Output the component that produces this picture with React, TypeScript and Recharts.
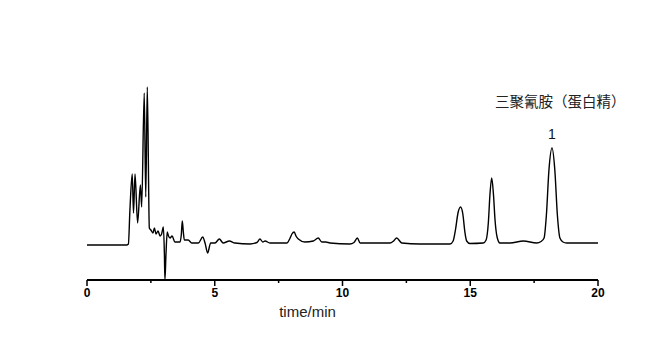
import { LineChart, Line, XAxis, YAxis, ReferenceDot } from "recharts";

// retention time (min) and detector signal
const times = [
  0, 1.0, 1.55, 1.62, 1.68, 1.77, 1.82, 1.88, 1.98, 2.09, 2.14, 2.24, 2.3, 2.36,
  2.44, 2.5, 2.58, 2.64, 2.7, 2.78, 2.86, 2.92, 2.99, 3.03, 3.05, 3.09, 3.14,
  3.19, 3.25, 3.33, 3.44, 3.64, 3.69, 3.73, 3.77, 3.81, 3.96, 4.1, 4.36, 4.53,
  4.62, 4.72, 4.84, 5.01, 5.18, 5.33, 5.57, 5.79, 6.38, 6.65, 6.77, 6.88, 6.97,
  7.16, 7.82, 7.95, 8.02, 8.11, 8.18, 8.27, 8.53, 8.86, 9.05, 9.19, 9.35, 9.51,
  10.29, 10.45, 10.58, 10.69, 11.86, 12.0, 12.12, 12.32, 13.03, 14.21, 14.33,
  14.42, 14.52, 14.62, 14.71, 14.79, 14.86, 14.99, 15.51, 15.62, 15.71, 15.77,
  15.84, 15.91, 15.97, 16.05, 16.16, 16.56, 17.08, 17.6, 17.77, 17.89, 17.98,
  18.08, 18.2, 18.31, 18.41, 18.51, 18.63, 18.77, 20,
];
const signal = [
  0, 0, 0, 1, 35, 71, 32, 71, 22, 60, 38, 152, 48, 158,
  17, 15, 12, 17, 11, 14, 9, 11, 18, -10, -35, -10, 13,
  9, 7, 9, 3, 3, 10, 24, 13, 5, 5, 2, 2, 8,
  2, -8, 2, 2, 6, 2, 4, 2, 1, 2.5, 6, 3, 4,
  2, 2, 7, 11, 13, 9, 6, 3, 4, 7, 3, 3, 2,
  1, 2.5, 7, 2, 2, 4, 7, 2, 1, 1, 4,
  15, 32, 38, 31, 13, 4, 1.5, 2, 5, 23, 50,
  67, 50, 25, 8, 2, 2, 4, 2, 3.5, 7, 30,
  75, 97, 75, 30, 7, 3, 2, 2,
];

const xTicks = [0, 2.5, 5, 7.5, 10, 12.5, 15, 17.5, 20];
const peakLabel = "1";
const compoundName = "三聚氰胺（蛋白精）";

const data = times.map((t, i) => ({ t, v: signal[i] }));

function AxisTick(props: any) {
  const { x, y, payload } = props;
  const major = payload.value % 5 === 0;
  return (
    <g>
      <line x1={x} x2={x} y1={y} y2={y + (major ? 6 : 3)} stroke="#000" strokeWidth={1.5} />
      {major && (
        <text
          x={x}
          y={y + 17}
          textAnchor="middle"
          fontSize={12}
          fontWeight="bold"
          fontFamily="Liberation Sans, Arial, sans-serif"
          fill="#000"
        >
          {payload.value}
        </text>
      )}
    </g>
  );
}

export default function App() {
  return (
    <div style={{ position: "absolute", left: 0, top: 0, background: "#fff" }}>
      <LineChart
        width={658}
        height={337}
        data={data}
        margin={{ top: 60, right: 60, bottom: 17, left: 87 }}
      >
        <XAxis
          dataKey="t"
          type="number"
          domain={[0, 20]}
          ticks={xTicks}
          tick={<AxisTick />}
          tickLine={false}
          tickSize={0}
          tickMargin={0}
          height={40}
          axisLine={{ stroke: "#000", strokeWidth: 2 }}
          interval={0}
          label={{
            value: "time/min",
            position: "insideBottom",
            offset: 3,
            dx: -35,
            fontSize: 15,
            fill: "#222",
            fontFamily: "Liberation Sans, Arial, sans-serif",
          }}
        />
        <YAxis hide domain={[-35, 185]} allowDataOverflow />
        <Line
          type="monotone"
          dataKey="v"
          stroke="#000"
          strokeWidth={1.4}
          dot={false}
          isAnimationActive={false}
        />
        <ReferenceDot
          x={18.2}
          y={97}
          r={0}
          fill="none"
          stroke="none"
          label={(p: any) => (
            <text
              x={p.viewBox.x + (p.viewBox.width || 0) / 2}
              y={p.viewBox.y - 9}
              textAnchor="middle"
              fontSize={14}
              fill="#111"
              fontFamily="Liberation Sans, Arial, sans-serif"
            >
              {peakLabel}
            </text>
          )}
        />
        <ReferenceDot
          x={18.52}
          y={143}
          r={0}
          fill="none"
          stroke="none"
          label={{
            value: compoundName,
            position: "center",
            fontSize: 14.5,
            fill: "#222",
            fontFamily: "Noto Sans CJK SC, sans-serif",
          }}
        />
      </LineChart>
    </div>
  );
}
